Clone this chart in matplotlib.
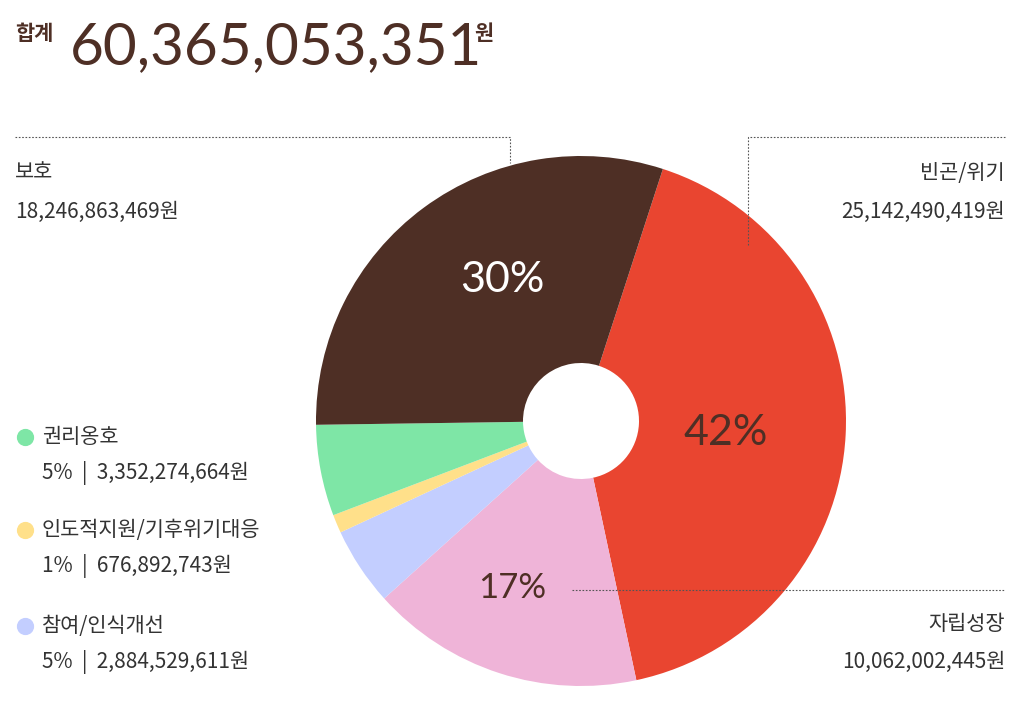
import matplotlib
matplotlib.use("Agg")
import matplotlib.pyplot as plt

categories = ["빈곤/위기", "자립성장", "참여/인식개선", "인도적지원/기후위기대응", "권리옹호", "보호"]
values = [25142490419, 10062002445, 2884529611, 676892743, 3352274664, 18246863469]
pcts = ["42%", "17%", "5%", "1%", "5%", "30%"]
colors = ["#E94530", "#EFB4D8", "#C3CEFF", "#FFE08A", "#7EE6A6", "#4E2F25"]
total = 60365053351

plt.rcParams['font.family'] = ['Noto Sans CJK KR', 'DejaVu Sans']
W, H = 1035, 702
fig = plt.figure(figsize=(W/100, H/100), dpi=100)
brown = "#4E2F25"
txt = "#333333"

def fx(x): return x / W
def fy(y): return 1 - y / H

ax = fig.add_axes([fx(316), fy(686), 530/W, 530/H])
ax.pie(values, colors=colors, startangle=72, counterclock=False, radius=1,
       wedgeprops=dict(width=1 - 58/265, linewidth=0))
ax.set_xlim(-1, 1); ax.set_ylim(-1, 1)
ax.set_aspect('equal')
ax.axis('off')

ov = fig.add_axes([0, 0, 1, 1], facecolor='none')
ov.set_xlim(0, W); ov.set_ylim(H, 0); ov.axis('off')
lk = dict(color="#555555", lw=0.8, ls=(0, (1.5, 1.5)))
ov.plot([15, 510, 510], [137, 137, 163], **lk)
ov.plot([1005, 748, 748], [137, 137, 245], **lk)
ov.plot([572, 1005], [590, 590], **lk)

ov.text(15, 40, "합계", fontsize=15, fontweight='bold', color=brown, va='baseline')
ov.text(70, 64, f"{total:,}", fontsize=42, color=brown, va='baseline',
        family=['Lato', 'DejaVu Sans'])
ov.text(474, 40, "원", fontsize=15, fontweight='bold', color=brown, va='baseline')

pk = dict(ha='center', va='center', family=['Lato', 'DejaVu Sans'])
ov.text(502, 280, pcts[5], fontsize=31, color='white', **pk)
ov.text(726, 433, pcts[0], fontsize=31, color=brown, **pk)
ov.text(512, 588, pcts[1], fontsize=25, color=brown, **pk)

fs = 15
ov.text(15, 173, categories[5], fontsize=fs, color=txt, va='center')
ov.text(15, 212, f"{values[5]:,}원", fontsize=fs, color=txt, va='center')
ov.text(1005, 173, categories[0], fontsize=fs, color=txt, va='center', ha='right')
ov.text(1005, 212, f"{values[0]:,}원", fontsize=fs, color=txt, va='center', ha='right')
ov.text(1005, 624, categories[1], fontsize=fs, color=txt, va='center', ha='right')
ov.text(1005, 662, f"{values[1]:,}원", fontsize=fs, color=txt, va='center', ha='right')

for idx, y in [(4, 437), (3, 530), (2, 626)]:
    ov.scatter([25], [y], s=130, color=colors[idx], zorder=3)
    ov.text(42, y, categories[idx], fontsize=fs, color=txt, va='center')
    ov.text(42, y + 36, f"{pcts[idx]}  |  {values[idx]:,}원", fontsize=fs, color=txt, va='center')

fig.savefig("out.png", dpi=100, facecolor='white')
